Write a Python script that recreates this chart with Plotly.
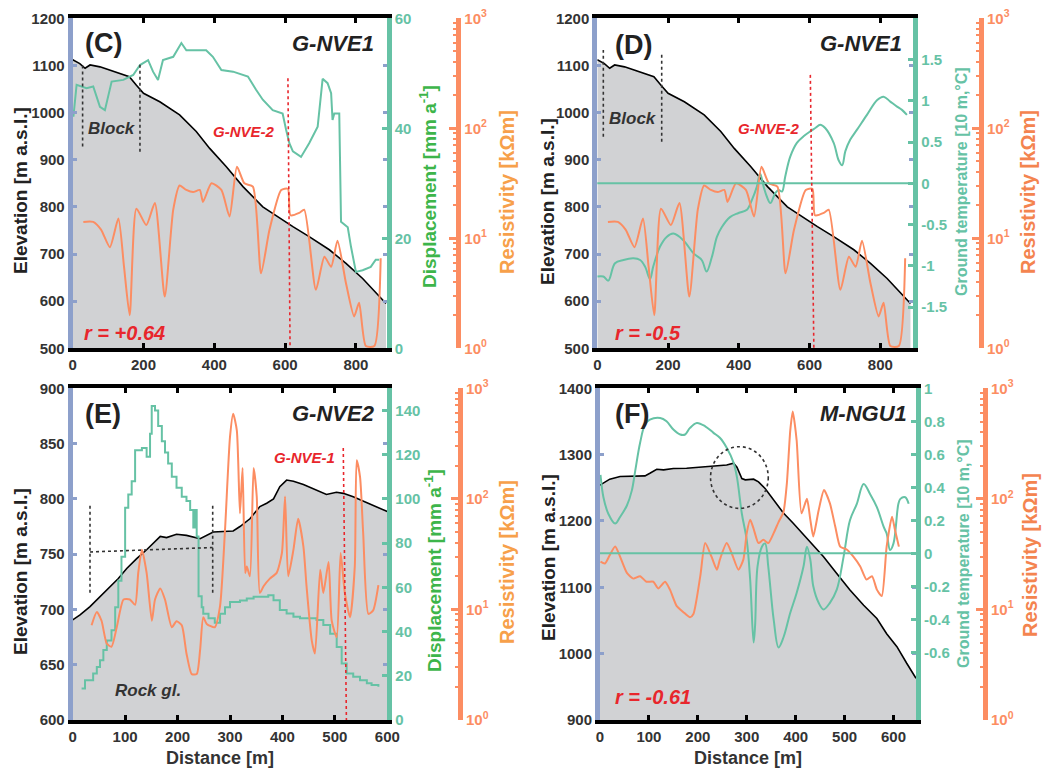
import plotly.graph_objects as go

W, H = 1051, 769

# ---------------- data ----------------
# G-NVE1 profile (panels C and D)
nve1_dist = [0, 20, 35, 49, 77, 115, 160, 180, 200, 246, 302, 349, 387, 434, 481, 537, 593, 622, 668, 725, 772, 819, 885]
nve1_elev = [1112, 1104, 1094, 1101, 1097, 1087, 1076, 1058, 1041, 1023, 995, 960, 924, 885, 843, 800, 772, 758, 737, 709, 680, 648, 595]

nve1_res_dist = [30, 58, 80, 105, 129, 145, 161, 180, 208, 232, 260, 284, 302, 321, 340, 359, 368, 392, 420, 443, 464, 485, 509,
                 532, 556, 589, 608, 615, 640, 654, 687, 711, 730, 748, 772, 795, 809, 828, 852, 870]
nve1_res = [14.1, 14.1, 12.0, 8.3, 15.1, 5.5, 2.0, 18.6, 13.2, 20.9, 2.95, 18.2, 30.2, 27.5, 26.3, 27.5, 21.4, 31.6, 27.5, 15.8,
            44.7, 31.6, 29.5, 4.8, 12.0, 27.5, 28.2, 16.2, 17.0, 18.2, 3.4, 6.8, 5.5, 9.5, 3.9, 1.95, 2.6, 1.05, 1.05, 6.6]

nve1_disp_dist = [2, 11, 39, 58, 77, 91, 110, 143, 171, 190, 213, 227, 241, 255, 284, 307, 321, 377, 396, 420, 453, 495, 518,
                  537, 565, 593, 603, 612, 622, 645, 668, 692, 706, 720, 730, 734, 739, 753, 758, 777, 786, 800, 819, 842, 856, 866]
nve1_disp = [42.1, 47.9, 47.3, 47.6, 43.9, 43.3, 48.5, 48.8, 49.7, 51.5, 52.4, 50.3, 48.8, 52.4, 53.0, 55.5, 54.2, 54.2, 53.0,
             50.6, 50.3, 49.4, 47.0, 45.2, 43.3, 42.7, 39.7, 37.3, 35.8, 34.8, 37.3, 40.3, 49.0, 48.2, 46.4, 41.5, 42.7, 42.7,
             23.0, 22.0, 18.5, 13.9, 14.2, 14.8, 16.1, 16.1]

nve1_temp_dist = [0, 17, 31, 50, 74, 102, 121, 135, 149, 158, 177, 196, 215, 243, 272, 295, 309, 324, 338, 352, 375, 399, 423,
                  437, 451, 460, 470, 479, 489, 503, 512, 522, 531, 545, 564, 583, 602, 616, 630, 644, 668, 682, 692, 701, 715,
                  734, 762, 791, 809, 828, 847, 861, 875]
nve1_temp = [-1.13, -1.13, -1.18, -0.97, -0.93, -0.91, -0.93, -1.01, -1.16, -1.01, -0.77, -0.65, -0.61, -0.69, -0.85, -0.93,
             -1.07, -0.89, -0.65, -0.53, -0.41, -0.36, -0.32, -0.20, -0.04, 0.12, -0.04, -0.16, -0.24, -0.12, -0.08, -0.10,
             0.08, 0.32, 0.49, 0.57, 0.63, 0.67, 0.71, 0.67, 0.49, 0.28, 0.22, 0.39, 0.53, 0.65, 0.83, 1.01, 1.05, 0.99,
             0.93, 0.89, 0.83]

# G-NVE2 profile (panel E)
nve2_dist = [0, 14, 33, 52, 71, 87, 103, 122, 141, 157, 167, 179, 198, 217, 243, 268, 306, 319, 338, 357, 370, 383, 395, 408,
             421, 440, 465, 484, 503, 516, 535, 554, 580, 600]
nve2_elev = [690.5, 695, 702.5, 711.6, 720.6, 728, 737, 746, 754, 761, 766, 765, 768, 767, 764, 770, 771, 775, 782, 793, 796,
             800, 811, 817, 816, 813, 808, 804, 806, 805, 802, 798, 793, 788.5]

nve2_disp_dist = [17, 23.5, 39, 46, 52, 58.5, 65, 74, 81, 87, 93, 100, 106, 112.5, 119, 132, 141, 147.5, 150.7, 157, 163, 170,
                  176, 182, 189, 198, 208, 217, 224, 230, 233, 236.5, 240, 246, 249, 259, 271, 281, 290.5, 300, 319, 332,
                  345, 364, 373, 383, 395, 408, 421, 433.5, 453, 465, 478, 491, 503.5, 513, 522.5, 535, 548, 561, 570, 583]
nve2_disp = [14.3, 18, 21, 24, 27, 31.6, 36, 40.6, 51, 63, 73.8, 96, 102, 108, 122, 123, 119, 129.5, 142, 140, 133, 126, 121,
             116, 110, 105, 101, 99, 95, 87, 95, 83, 56, 51, 48, 46, 44, 48, 51, 53.4, 54, 55, 55.7, 55.7, 56.4, 54.2, 49.7,
             48.2, 46.7, 46, 46, 45.2, 43, 39, 33, 25.6, 21, 19.6, 18, 16.6, 15.8, 15]

nve2_res_dist = [36, 46, 55, 65, 74, 84, 97, 109, 119, 125, 132, 141, 151, 157, 167, 176, 189, 198, 208, 217, 227, 236.5, 243,
                 249, 255.6, 271, 281, 290.5, 300, 306, 313, 319, 324, 329, 332, 338, 345, 351, 357, 364, 376, 389, 399,
                 405, 411, 421, 430, 440, 446, 456, 462, 472, 478, 488, 494, 503.5, 511, 519, 529, 538, 541.6, 548, 554,
                 564, 573, 583]
nve2_res = [7.2, 9.5, 7.9, 4.9, 4.6, 6.9, 12.3, 12.3, 11.0, 21.4, 34.7, 21.4, 7.9, 12.3, 15.5, 12.3, 6.9, 7.8, 7.2, 4.0, 2.6,
            2.6, 4.3, 8.5, 7.4, 6.9, 10.7, 52.5, 363, 589, 417, 74, 190, 21.4, 24.5, 20, 190, 105, 14.1, 16.2, 19, 21.4,
            32.4, 105, 20, 34.7, 66, 37, 16.2, 5.2, 4.0, 22.9, 14.1, 26.9, 7.9, 5.6, 32.4, 14.1, 8.5, 24.5, 224, 158, 49,
            9.1, 9.8, 16.6]

# M-NGU1 profile (panel F)
ngu1_dist = [0, 20, 41, 68, 92, 102, 116, 130, 150, 177, 205, 232, 259, 273, 280, 290, 297, 314, 324, 337.5, 355, 375, 395,
             416, 436, 457, 484, 511, 539, 566, 586, 607, 627, 646]
ngu1_elev = [1254, 1263, 1267, 1268, 1268, 1272, 1278, 1277, 1279, 1279.4, 1281, 1283, 1284.4, 1287, 1281, 1264, 1262, 1263,
             1259, 1249, 1232, 1212, 1196.5, 1179, 1164, 1146, 1121, 1096, 1073, 1053, 1030, 1010.6, 985.5, 963]

ngu1_temp_dist = [1, 7, 17, 31, 41, 55, 65, 72, 82, 92, 102, 123, 136, 150, 164, 174, 184, 198, 215, 232, 245, 259, 273, 280,
                  290, 300, 307, 314, 317, 322, 331, 337.5, 344, 355, 365, 375, 389, 402, 416, 423, 430, 436, 447, 457, 470,
                  484, 498, 511, 525, 539, 552, 566, 580, 586, 593, 600, 610, 614, 624, 631]
ngu1_temp = [0.475, 0.34, 0.24, 0.18, 0.22, 0.29, 0.38, 0.50, 0.67, 0.78, 0.81, 0.82, 0.80, 0.75, 0.72, 0.72, 0.76, 0.79,
             0.77, 0.73, 0.70, 0.64, 0.55, 0.46, 0.24, 0.08, -0.16, -0.54, -0.44, -0.08, 0.04, 0.06, -0.08, -0.40, -0.57,
             -0.51, -0.36, -0.24, -0.08, 0.04, -0.04, -0.20, -0.30, -0.34, -0.30, -0.22, -0.02, 0.20, 0.30, 0.42, 0.36,
             0.28, 0.16, 0.12, 0.02, 0.06, 0.30, 0.33, 0.34, 0.30]

ngu1_res_dist = [1, 10, 20, 31, 41, 55, 68, 82, 95, 109, 119, 133, 143, 157, 170, 184, 191, 205, 215, 228, 239, 245, 259, 269,
                 283, 293, 300, 307, 314, 324, 334, 344, 355, 365, 375, 382, 389, 394, 402, 412, 423, 430, 436, 447, 458, 470,
                 481, 491, 505, 518, 532, 545, 556, 566, 576, 586, 597, 603, 611]
ngu1_res = [27, 26, 31, 37, 30, 21.4, 19, 20, 17.8, 17.8, 15.5, 17.8, 15.1, 10.7, 9.5, 8.5, 9.1, 20, 39.8, 30, 22.9, 28.2,
            39.8, 32.4, 22.9, 28.2, 49, 64.6, 53.7, 39.8, 42.7, 39.8, 49, 61.7, 75.9, 138, 417, 617, 339, 74, 100, 64.6,
            45.7, 79, 120, 91, 56, 37, 34.7, 30, 24.5, 18.6, 20, 15.1, 13.2, 37, 69, 52.5, 37]

# annotation positions (data units)
block_C = [28, 190]
block_D = [17, 182]
rockgl_E = [33, 267, 753]
crossing_C = [608, 614]
crossing_D = [602, 612]
crossing_E = [516, 522]
circle_F = [226, 344, 1219, 1312]

# ---------------- styling ----------------
FONT = "Liberation Sans, Arial, sans-serif"
BLUE = '#8DA0CB'
TEAL = '#66C2A5'
ORANGE = '#FC8D62'
GREEN = '#3DB54A'
RES_T1 = '#F7A04A'
RES_T2 = '#F4844F'
RED = '#E8262C'
DARK = '#333333'
FILL = '#D1D2D4'


def px(v):
    return v / W


def py(v):
    return 1 - v / H


panels = [
    dict(name='C', xd=(72.7, 386.7), yd=(18.3, 348.3), rpos=458.3, xr=[0, 887], xt=[0, 200, 400, 600, 800],
         er=[500, 1200], et=list(range(500, 1201, 100)), sec='disp', sr=[0, 60], st=[0, 20, 40, 60], sshape='linear',
         dist=nve1_dist, elev=nve1_elev, sd=nve1_disp_dist, sv=nve1_disp, rd=nve1_res_dist, rv=nve1_res),
    dict(name='D', xd=(597.3, 913.3), yd=(18.3, 348.3), rpos=981.0, xr=[0, 893], xt=[0, 200, 400, 600, 800],
         er=[500, 1200], et=list(range(500, 1201, 100)), sec='temp', sr=[-2, 2], st=[-1.5, -1, -0.5, 0, 0.5, 1, 1.5],
         sshape='spline',
         dist=nve1_dist, elev=nve1_elev, sd=nve1_temp_dist, sv=nve1_temp, rd=nve1_res_dist, rv=nve1_res),
    dict(name='E', xd=(72.7, 387.3), yd=(388.3, 720.0), rpos=460.0, xr=[0, 600], xt=list(range(0, 601, 100)),
         er=[600, 900], et=list(range(600, 901, 50)), sec='disp', sr=[0, 150], st=list(range(0, 141, 20)), sshape='hv',
         dist=nve2_dist, elev=nve2_elev, sd=nve2_disp_dist, sv=nve2_disp, rd=nve2_res_dist, rv=nve2_res),
    dict(name='F', xd=(600.0, 916.0), yd=(388.3, 720.0), rpos=985.0, xr=[0, 646], xt=list(range(0, 601, 100)),
         er=[900, 1400], et=list(range(900, 1401, 100)), sec='temp', sr=[-1.01, 1.0],
         st=[-0.6, -0.4, -0.2, 0, 0.2, 0.4, 0.6, 0.8, 1], sshape='spline',
         dist=ngu1_dist, elev=ngu1_elev, sd=ngu1_temp_dist, sv=ngu1_temp, rd=ngu1_res_dist, rv=ngu1_res),
]


def fmt(v):
    return '%g' % v


def yname(n):
    return 'yaxis' if n == 1 else 'yaxis%d' % n


def yref(n):
    return 'y' if n == 1 else 'y%d' % n


fig = go.Figure()
layout = dict(template='none', width=W, height=H, margin=dict(l=0, r=0, t=0, b=0, pad=0, autoexpand=False),
              paper_bgcolor='white', plot_bgcolor='white', showlegend=False,
              font=dict(family=FONT, color=DARK))
annotations = []
shapes = []

tickfont = dict(family=FONT, size=15, color=DARK, weight='bold')
minor_vals = [m * 10 ** k for k in range(3) for m in range(2, 10)]


def ptitle(text, xpix, ypix, size, color, angle=-90):
    annotations.append(dict(text=text, xref='paper', yref='paper', x=px(xpix), y=py(ypix), xanchor='center',
                            yanchor='middle', textangle=angle, showarrow=False,
                            font=dict(family=FONT, size=size, color=color, weight='bold')))


for i, p in enumerate(panels):
    xa = 'xaxis' if i == 0 else 'xaxis%d' % (i + 1)
    xr = 'x' if i == 0 else 'x%d' % (i + 1)
    ye, ys, yr = 3 * i + 1, 3 * i + 2, 3 * i + 3

    layout[xa] = dict(domain=[px(p['xd'][0]), px(p['xd'][1])], anchor=yref(ye), range=p['xr'], automargin=False,
                      tickvals=p['xt'], ticks='inside', ticklen=5, tickwidth=3, tickcolor='black',
                      showline=True, linecolor='black', linewidth=4, mirror='ticks', showgrid=False,
                      zeroline=False, tickfont=tickfont)
    layout[yname(ye)] = dict(domain=[py(p['yd'][1]), py(p['yd'][0])], anchor=xr, range=p['er'], tickvals=p['et'],
                             automargin=False, ticks='inside', ticklen=4, tickwidth=3, tickcolor=BLUE, showline=True,
                             linecolor=BLUE, linewidth=5, mirror='ticks', showgrid=False, zeroline=False,
                             tickfont=tickfont)
    layout[yname(ys)] = dict(overlaying=yref(ye), anchor=xr, side='right', range=p['sr'], tickvals=p['st'],
                             automargin=False, ticktext=[fmt(v) for v in p['st']], ticks='inside', ticklen=5,
                             tickwidth=3, tickcolor=TEAL, showline=True, linecolor=TEAL, linewidth=5, showgrid=False,
                             zeroline=False, tickfont=dict(family=FONT, size=15, color=TEAL, weight='bold'))
    layout[yname(yr)] = dict(overlaying=yref(ye), anchor='free', position=px(p['rpos']), side='right', type='log',
                             automargin=False, range=[0, 3], tickvals=[1, 10, 100, 1000],
                             ticktext=['10<sup>0</sup>', '10<sup>1</sup>', '10<sup>2</sup>', '10<sup>3</sup>'],
                             ticks='inside', ticklen=7, tickwidth=3, tickcolor=ORANGE, showline=True,
                             linecolor=ORANGE, linewidth=5, showgrid=False, zeroline=False,
                             minor=dict(tickmode='array', tickvals=minor_vals, ticks='inside', ticklen=3,
                                        tickwidth=2, tickcolor=ORANGE, showgrid=False),
                             tickfont=dict(family=FONT, size=15, color=ORANGE, weight='bold'))

    # elevation with grey fill
    fig.add_trace(go.Scatter(x=p['dist'], y=p['elev'], xaxis=xr, yaxis=yref(ye), mode='lines', fill='tozeroy',
                             fillcolor=FILL, line=dict(color='black', width=1.6), hoverinfo='skip'))
    # secondary (displacement / ground temperature)
    fig.add_trace(go.Scatter(x=p['sd'], y=p['sv'], xaxis=xr, yaxis=yref(ys), mode='lines',
                             line=dict(color=TEAL, width=2, shape=p['sshape']), hoverinfo='skip'))
    # resistivity
    fig.add_trace(go.Scatter(x=p['rd'], y=p['rv'], xaxis=xr, yaxis=yref(yr), mode='lines',
                             line=dict(color=ORANGE, width=2, shape='spline', smoothing=0.6), hoverinfo='skip'))

    if p['sec'] == 'temp':
        shapes.append(dict(type='line', xref=xr + ' domain', yref=yref(ys), x0=0, x1=1, y0=0, y1=0,
                           line=dict(color=TEAL, width=2)))

    # axis titles
    ycen = {'C': (191, 187, 192), 'D': (202, 182, 192), 'E': (572, 571, 562), 'F': (558, 554, 555)}[p['name']]
    xtit = {'C': (20, 428, 507), 'D': (548, 962, 1028), 'E': (20, 433, 507), 'F': (548, 963, 1030)}[p['name']]
    ptitle('Elevation [m a.s.l.]', xtit[0], ycen[0], 19, '#222')
    if p['sec'] == 'disp':
        ptitle('Displacement [mm a<sup>-1</sup>]', xtit[1], ycen[1], 19, GREEN)
        rcol = RES_T1
    else:
        ptitle('Ground temperature [10 m,°C]', xtit[1], ycen[1], 16, TEAL)
        rcol = RES_T2
    ptitle('Resistivity [kΩm]', xtit[2], ycen[2], 20, rcol)
    if p['name'] in ('E', 'F'):
        ptitle('Distance [m]', (p['xd'][0] + p['xd'][1]) / 2 - 10, 758, 18, DARK, angle=0)


# in-plot labels
def lab(text, xr, yr, x, y, size, color, italic=True, xanchor='center'):
    annotations.append(dict(text=text, xref=xr, yref=yr, x=x, y=y, showarrow=False, xanchor=xanchor,
                            yanchor='middle',
                            font=dict(family=FONT, size=size, color=color, weight='bold',
                                      style='italic' if italic else 'normal')))


lab('(C)', 'x', 'y', 86, 1147, 27, '#222', italic=False)
lab('G-NVE1', 'x', 'y', 858, 1147, 22, '#222', xanchor='right')
lab('Block', 'x', 'y', 110, 967, 17, '#333')
lab('G-NVE-2', 'x', 'y', 485, 960, 15, RED)
lab('r = +0.64', 'x', 'y', 26, 532, 20, RED, xanchor='left')

lab('(D)', 'x2', 'y4', 102, 1143, 27, '#222', italic=False)
lab('G-NVE1', 'x2', 'y4', 868, 1147, 22, '#222', xanchor='right')
lab('Block', 'x2', 'y4', 102, 988, 17, '#333')
lab('G-NVE-2', 'x2', 'y4', 484, 967, 15, RED)
lab('r = -0.5', 'x2', 'y4', 43, 532, 20, RED, xanchor='left')

lab('(E)', 'x3', 'y7', 58, 877, 27, '#222', italic=False)
lab('G-NVE2', 'x3', 'y7', 581, 877, 22, '#222', xanchor='right')
lab('G-NVE-1', 'x3', 'y7', 443, 837, 15, RED)
lab('Rock gl.', 'x3', 'y7', 144, 627, 17, '#333')

lab('(F)', 'x4', 'y10', 65, 1362, 27, '#222', italic=False)
lab('M-NGU1', 'x4', 'y10', 632, 1362, 22, '#222', xanchor='right')
lab('r = -0.61', 'x4', 'y10', 26, 935, 20, RED, xanchor='left')

# dotted marker lines
dot_black = dict(color='#333333', width=1.6, dash='dot')
dot_red = dict(color=RED, width=1.6, dash='dot')
for xv, (y0, y1) in zip(block_C, [(928, 1104), (917, 1108)]):
    shapes.append(dict(type='line', xref='x', yref='y', x0=xv, x1=xv, y0=y0, y1=y1, line=dot_black))
shapes.append(dict(type='line', xref='x', yref='y', x0=crossing_C[0], x1=crossing_C[1], y0=1073, y1=500, line=dot_red))
for xv, (y0, y1) in zip(block_D, [(949, 1133), (938, 1126)]):
    shapes.append(dict(type='line', xref='x2', yref='y4', x0=xv, x1=xv, y0=y0, y1=y1, line=dot_black))
shapes.append(dict(type='line', xref='x2', yref='y4', x0=crossing_D[0], x1=crossing_D[1], y0=1080, y1=500, line=dot_red))
shapes.append(dict(type='line', xref='x3', yref='y7', x0=rockgl_E[0], x1=rockgl_E[0], y0=715, y1=796, line=dot_black))
shapes.append(dict(type='line', xref='x3', yref='y7', x0=rockgl_E[1], x1=rockgl_E[1], y0=715, y1=796, line=dot_black))
shapes.append(dict(type='line', xref='x3', yref='y7', x0=rockgl_E[0], x1=rockgl_E[1], y0=rockgl_E[2] - 1,
                   y1=rockgl_E[2] + 3, line=dot_black))
shapes.append(dict(type='line', xref='x3', yref='y7', x0=crossing_E[0], x1=crossing_E[1], y0=846, y1=600, line=dot_red))
shapes.append(dict(type='circle', xref='x4', yref='y10', x0=circle_F[0], x1=circle_F[1], y0=circle_F[2], y1=circle_F[3],
                   line=dot_black))

layout['annotations'] = annotations
layout['shapes'] = shapes
fig.update_layout(**layout)

fig.write_html("out.html", config={'displayModeBar': False},
               post_script="document.body.style.margin='0';document.body.style.overflow='hidden';")
